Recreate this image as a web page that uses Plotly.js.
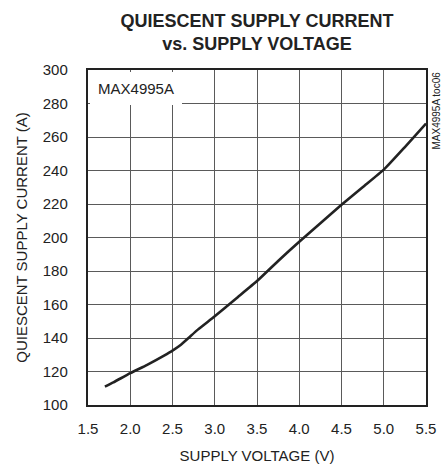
<!DOCTYPE html>
<html>
<head>
<meta charset="utf-8">
<script src="https://cdn.plot.ly/plotly-3.0.1.min.js"></script>
<style>html,body{margin:0;padding:0;background:#fff;}#chart{width:442px;height:467px;}</style>
</head>
<body>
<div id="chart"></div>
<script>
var supplyVoltage = [1.7, 1.8, 2.0, 2.2, 2.4, 2.5, 2.6, 2.7, 2.8, 3.0, 3.25, 3.5, 3.75, 4.0, 4.25, 4.5, 4.75, 5.0, 5.25, 5.5];
var supplyCurrent = [111, 113.5, 119, 124, 129.5, 132.5, 136, 140.5, 145, 153, 163.5, 174, 186, 197.5, 208.5, 219.5, 230, 240.5, 254, 268];
var xTicks = [1.5, 2.0, 2.5, 3.0, 3.5, 4.0, 4.5, 5.0, 5.5];
var yTicks = [100, 120, 140, 160, 180, 200, 220, 240, 260, 280, 300];

var FONT = 'Arial, "Liberation Sans", Helvetica, sans-serif';
var INK = '#222222';

var trace = {
  x: supplyVoltage,
  y: supplyCurrent,
  type: 'scatter',
  mode: 'lines',
  line: {color: INK, width: 2.6, shape: 'spline', smoothing: 0.5},
  hoverinfo: 'x+y'
};

var layout = {
  width: 442,
  height: 467,
  margin: {l: 88, r: 16, t: 70, b: 62},
  paper_bgcolor: '#ffffff',
  plot_bgcolor: '#ffffff',
  showlegend: false,
  font: {family: FONT, color: INK, size: 15},
  title: {
    text: '<b>QUIESCENT SUPPLY CURRENT<br>vs. SUPPLY VOLTAGE</b>',
    font: {family: FONT, size: 18, color: INK},
    xref: 'paper', x: 0.5, xanchor: 'center',
    yref: 'container', y: 0.943, yanchor: 'middle'
  },
  xaxis: {
    range: [1.5, 5.5],
    tickvals: xTicks,
    ticktext: xTicks.map(function(v){return v.toFixed(1);}),
    showgrid: true, gridcolor: '#5a5a5a', gridwidth: 1,
    showline: true, mirror: true, linecolor: INK, linewidth: 2.2,
    ticks: '', zeroline: false,
    tickfont: {family: FONT, size: 15, color: INK},
    ticklabelstandoff: 9,
    title: {text: 'SUPPLY VOLTAGE (V)', font: {family: FONT, size: 15, color: INK}, standoff: 14}
  },
  yaxis: {
    range: [100, 300],
    tickvals: yTicks,
    showgrid: true, gridcolor: '#5a5a5a', gridwidth: 1,
    showline: true, mirror: true, linecolor: INK, linewidth: 2.2,
    ticks: '', zeroline: false,
    tickfont: {family: FONT, size: 15, color: INK},
    ticklabelstandoff: 15,
    title: {text: 'QUIESCENT SUPPLY CURRENT (A)', font: {family: FONT, size: 15, color: INK}, standoff: 12}
  },
  annotations: [
    {
      text: 'MAX4995A',
      xref: 'paper', yref: 'paper', x: 0, y: 1,
      xanchor: 'left', yanchor: 'top',
      xshift: 2, yshift: -2,
      width: 92, height: 33, align: 'center', valign: 'middle',
      bgcolor: '#ffffff', borderpad: 0, borderwidth: 0,
      showarrow: false,
      font: {family: FONT, size: 15, color: INK}
    },
    {
      text: 'MAX4995A toc06',
      xref: 'paper', yref: 'paper', x: 1, y: 1,
      xanchor: 'left', yanchor: 'top',
      xshift: 2,
      textangle: -90,
      showarrow: false,
      font: {family: FONT, size: 10, color: INK}
    }
  ]
};

Plotly.newPlot('chart', [trace], layout, {displayModeBar: false, staticPlot: true});
</script>
</body>
</html>
